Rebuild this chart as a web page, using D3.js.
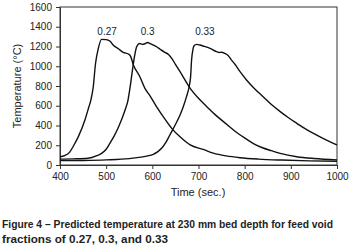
<!DOCTYPE html>
<html><head><meta charset="utf-8">
<script src="https://cdn.jsdelivr.net/npm/d3@7"></script>
<style>
html,body{margin:0;padding:0;background:#fff;}
svg{display:block;font-family:"Liberation Sans",Arial,sans-serif;}
</style></head>
<body>
<svg id="chart" width="354" height="248"></svg>
<script>
const xTicks = [400, 500, 600, 700, 800, 900, 1000];
const yTicks = [0, 200, 400, 600, 800, 1000, 1200, 1400, 1600];
const seriesNames = ["0.27", "0.3", "0.33"];

const time027 = [400,410,421,430,440,454,462,467,472,477,483,490,500,508,515,526,537,548,553,559,573,584,595,609,625,642,660,682,710,732,760,790,830,880,940,1000];
const temp027 = [84,95,130,200,290,456,580,660,790,1030,1180,1272,1270,1255,1215,1180,1140,1124,1100,1013,894,776,700,591,480,371,285,203,158,120,92,74,60,50,42,38];

const time030 = [400,430,461,480,490,500,508,518,527,541,547,552,556,559,563,566,572,578,584,590,595,602,610,617,627,635,642,650,660,682,700,718,736,754,768,785,804,820,840,858,877,913,950,1000];
const temp030 = [60,62,68,95,118,160,219,300,388,557,650,793,930,1030,1140,1198,1230,1222,1228,1240,1230,1215,1195,1172,1141,1120,1080,1020,945,776,675,591,510,439,385,321,262,215,172,145,118,84,66,52];

const time033 = [400,450,500,550,575,590,602,612,620,630,638,650,660,667,674,680,683,685,688,690,696,703,710,725,739,745,750,757,764,772,779,790,804,822,840,858,877,895,913,930,949,975,1000];
const temp033 = [44,46,52,65,80,92,108,135,169,235,304,410,506,590,692,800,900,1063,1170,1205,1222,1215,1205,1181,1148,1140,1142,1130,1110,1060,1020,945,861,770,692,612,540,478,422,370,321,258,203];

const labelPos = [[502, 1320], [590, 1320], [714, 1320]];

const svg = d3.select("#chart");
const m = {left: 60, top: 7, right: 17, bottom: 83};
const W = 354 - m.left - m.right, H = 248 - m.top - m.bottom;
const x = d3.scaleLinear().domain([400, 1000]).range([0, W]);
const y = d3.scaleLinear().domain([0, 1600]).range([H, 0]);
const g = svg.append("g").attr("transform", `translate(${m.left},${m.top})`);

// frame
g.append("rect").attr("x", 0).attr("y", 0).attr("width", W).attr("height", H)
  .attr("fill", "none").attr("stroke", "#333").attr("stroke-width", 1);

const xa = g.append("g").attr("transform", `translate(0,${H})`)
  .call(d3.axisBottom(x).tickValues(xTicks).tickSize(4).tickPadding(4).tickFormat(d3.format("d")));
const ya = g.append("g")
  .call(d3.axisLeft(y).tickValues(yTicks).tickSize(4).tickPadding(4).tickFormat(d3.format("d")));
[xa, ya].forEach(a => {
  a.select(".domain").attr("stroke", "#333");
  a.selectAll(".tick line").attr("stroke", "#333");
  a.selectAll("text").attr("fill", "#222").style("font-size", "10px")
    .style("font-family", "'Liberation Sans',Arial,sans-serif");
});

const line = d3.line().x(d => x(d[0])).y(d => y(d[1])).curve(d3.curveMonotoneX);
[[time027, temp027], [time030, temp030], [time033, temp033]].forEach(([t, v]) => {
  g.append("path").datum(t.map((tt, i) => [tt, v[i]]))
    .attr("d", line).attr("fill", "none").attr("stroke", "#111").attr("stroke-width", 1.4)
    .attr("stroke-linejoin", "round");
});

seriesNames.forEach((s, i) => {
  g.append("text").attr("x", x(labelPos[i][0])).attr("y", y(labelPos[i][1]))
    .attr("text-anchor", "middle").attr("fill", "#222").style("font-size", "10px").text(s);
});

svg.append("text").attr("x", 198).attr("y", 196).attr("text-anchor", "middle")
  .attr("fill", "#222").style("font-size", "11px").text("Time (sec.)");
svg.append("text").attr("transform", "translate(21,86) rotate(-90)").attr("text-anchor", "middle")
  .attr("fill", "#222").style("font-size", "11px").text("Temperature (°C)");

const cap = svg.append("g").attr("fill", "#222").style("font-weight", "bold").style("font-size", "11px")
  .style("font-family", "'Liberation Sans Narrow','Liberation Sans',Arial,sans-serif");
cap.append("text").attr("x", 2).attr("y", 228).attr("textLength", 331).attr("lengthAdjust", "spacingAndGlyphs")
  .text("Figure 4 – Predicted temperature at 230 mm bed depth for feed void");
cap.append("text").attr("x", 2).attr("y", 243).attr("textLength", 166).attr("lengthAdjust", "spacingAndGlyphs")
  .text("fractions of 0.27, 0.3, and 0.33");
</script>
</body></html>
